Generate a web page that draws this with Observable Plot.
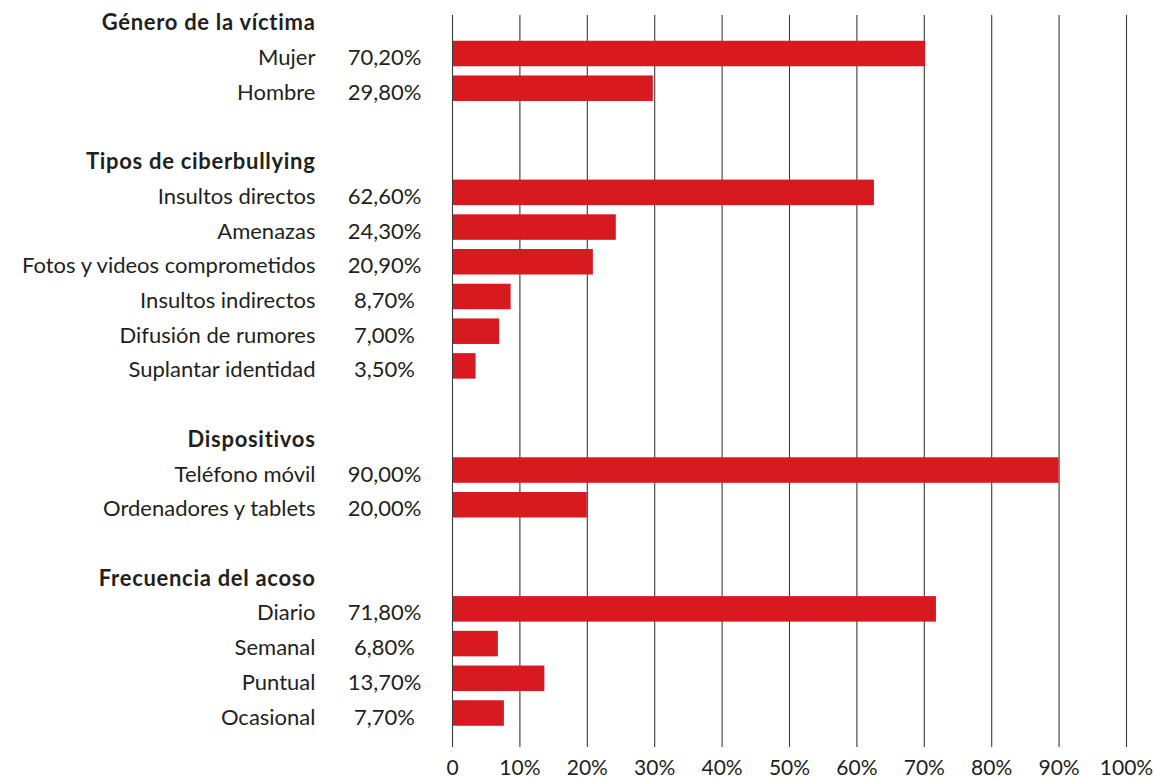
<!DOCTYPE html>
<html>
<head>
<meta charset="utf-8">
<script src="https://cdn.jsdelivr.net/npm/d3@7"></script>
<script src="https://cdn.jsdelivr.net/npm/@observablehq/plot@0.6"></script>
<style>
  html, body { margin: 0; padding: 0; background: #fff; }
  #chart svg { display: block; }
  #chart g[font-weight="bold"] { letter-spacing: 0.7px; }
</style>
</head>
<body>
<div id="chart"></div>
<script>
// ---- Data ----
const groups = ["Género de la víctima", "Tipos de ciberbullying", "Dispositivos", "Frecuencia del acoso"];
const genderCats = ["Mujer", "Hombre"];
const genderVals = [70.2, 29.8];
const typeCats = ["Insultos directos", "Amenazas", "Fotos y videos comprometidos", "Insultos indirectos", "Difusión de rumores", "Suplantar identidad"];
const typeVals = [62.6, 24.3, 20.9, 8.7, 7.0, 3.5];
const deviceCats = ["Teléfono móvil", "Ordenadores y tablets"];
const deviceVals = [90.0, 20.0];
const freqCats = ["Diario", "Semanal", "Puntual", "Ocasional"];
const freqVals = [71.8, 6.8, 13.7, 7.7];
const xTicks = [0, 10, 20, 30, 40, 50, 60, 70, 80, 90, 100];

// ---- Build row table ----
const sections = [
  [groups[0], genderCats, genderVals],
  [groups[1], typeCats, typeVals],
  [groups[2], deviceCats, deviceVals],
  [groups[3], freqCats, freqVals]
];
const rows = [];
sections.forEach(([g, cats, vals], si) => {
  if (si > 0) rows.push({key: "blank" + si, label: "", type: "blank"});
  rows.push({key: "h:" + g, label: g, type: "header"});
  cats.forEach((c, i) => rows.push({key: "c:" + c, label: c, type: "cat", value: vals[i]}));
});
const cats = rows.filter(d => d.type === "cat");
const headers = rows.filter(d => d.type === "header");
const fmt = v => v.toFixed(2).replace(".", ",") + "%";

const W = 1154, H = 778;
const step = 34.71;
const y0 = 18.8 - step / 2;

const font = "Lato, 'Open Sans', sans-serif";
const chart = Plot.plot({
  width: W,
  height: H,
  marginLeft: 452,
  marginRight: 28,
  marginTop: 15,
  marginBottom: 31,
  style: {fontFamily: font, fontSize: "22px", color: "#231f20", background: "#fff"},
  x: {domain: [0, 100], axis: null},
  y: {domain: rows.map(d => d.key), range: [y0, y0 + step * rows.length], padding: 0, round: false, axis: null},
  marks: [
    Plot.ruleX(xTicks, {stroke: "#3a3a3a", strokeWidth: 1.1, strokeOpacity: 1}),
    Plot.barX(cats, {x: "value", y: "key", fill: "#d71920", insetTop: 4.6, insetBottom: 4.6, insetLeft: 1}),
    Plot.text(cats, {y: "key", text: "label", frameAnchor: "left", textAnchor: "end", lineAnchor: "middle", dx: -137, dy: 4, fill: "#231f20", fontSize: 22}),
    Plot.text(headers, {y: "key", text: "label", frameAnchor: "left", textAnchor: "end", lineAnchor: "middle", dx: -137, dy: 4, fill: "#231f20", fontSize: 22, fontWeight: "bold"}),
    Plot.text(cats, {y: "key", text: d => fmt(d.value), frameAnchor: "left", textAnchor: "middle", lineAnchor: "middle", dx: -68, dy: 4, fill: "#231f20", fontSize: 22}),
    Plot.text(xTicks, {x: d => d, text: d => d === 0 ? "0" : d + "%", frameAnchor: "bottom", lineAnchor: "middle", dy: 21, fill: "#231f20", fontSize: 21})
  ]
});
document.getElementById("chart").appendChild(chart);
</script>
</body>
</html>
